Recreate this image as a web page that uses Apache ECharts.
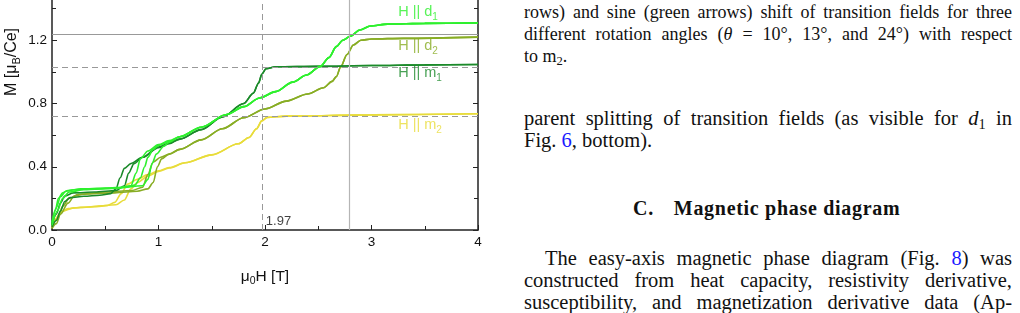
<!DOCTYPE html>
<html>
<head>
<meta charset="utf-8">
<script src="https://cdn.jsdelivr.net/npm/echarts@6.0.0/dist/echarts.min.js"></script>
<style>
  html, body { margin: 0; padding: 0; background: #fff; width: 1020px; height: 313px; overflow: hidden; position: relative; }
  #chart { position: absolute; left: 0; top: -30px; width: 510px; height: 343px; }
  .ln { position: absolute; left: 524px; width: 488px; font-family: "Liberation Serif", "DejaVu Serif", serif; color: #111; white-space: nowrap; line-height: 22px; }
  .cap { font-size: 18px; }
  .body { font-size: 20.5px; }
  .j { text-align: justify; text-align-last: justify; white-space: normal; }
  .blue { color: #1a1aff; }
  .head { position: absolute; font-family: "Liberation Serif", serif; font-weight: bold; font-size: 20px; letter-spacing: 0.7px; color: #111; line-height: 22px; white-space: nowrap; }
  sub { font-size: 70%; vertical-align: -0.25em; line-height: 0; }
</style>
</head>
<body>
<div id="chart"></div>

<div class="ln cap j" style="top:1px;">rows) and sine (green arrows) shift of transition fields for three</div>
<div class="ln cap j" style="top:23px;">different rotation angles (<i>θ</i> = 10°, 13°, and 24°) with respect</div>
<div class="ln cap" style="top:45px;">to m<sub>2</sub>.</div>

<div class="ln body j" style="top:107px;">parent splitting of transition fields (as visible for <i>d</i><sub>1</sub> in</div>
<div class="ln body" style="top:129px;">Fig. <span class="blue">6</span>, bottom).</div>

<div class="head" style="left:633px; top:197px;">C.<span style="display:inline-block;width:20px;"></span>Magnetic phase diagram</div>

<div class="ln body j" style="top:247px; left:545px; width:467px;">The easy-axis magnetic phase diagram (Fig. <span class="blue">8</span>) was</div>
<div class="ln body j" style="top:269px;">constructed from heat capacity, resistivity derivative,</div>
<div class="ln body j" style="top:291px;">susceptibility, and magnetization derivative data (Ap-</div>

<script>
// ---- data (field H in T, magnetization M in muB/Ce) ----
// H || d1 : low-field branches and common high-field part
const d1LowA = [[0,0.04],[0.03,0.12],[0.06,0.2],[0.1,0.235],[0.15,0.25],[0.27,0.26],[0.5,0.265],[0.7,0.272],[0.78,0.285],[0.83,0.33],[0.87,0.4],[0.9,0.46],[0.95,0.51],[1.0,0.535],[1.1,0.56]];
const d1LowB = [[0,0.05],[0.04,0.14],[0.08,0.21],[0.13,0.245],[0.2,0.255],[0.4,0.26],[0.6,0.265],[0.74,0.28],[0.79,0.36],[0.83,0.45],[0.9,0.5],[1.0,0.54],[1.1,0.565]];
const d1LowC = [[0,0.03],[0.05,0.12],[0.1,0.2],[0.16,0.24],[0.3,0.255],[0.6,0.265],[0.85,0.28],[0.9,0.32],[0.94,0.42],[0.98,0.48],[1.05,0.53],[1.1,0.555]];
const d1High = [[1.2,0.59],[1.4,0.65],[1.64,0.73],[1.8,0.78],[1.95,0.835],[2.1,0.875],[2.26,0.935],[2.39,0.98],[2.52,1.035],[2.6,1.09],[2.67,1.16],[2.73,1.2],[2.8,1.225],[2.89,1.265],[2.99,1.29],[3.15,1.302],[3.5,1.307],[4.0,1.31]];

// H || m1
const m1LowA = [[0,0.02],[0.04,0.06],[0.08,0.12],[0.12,0.18],[0.17,0.205],[0.3,0.213],[0.45,0.22],[0.55,0.23],[0.6,0.26],[0.64,0.33],[0.68,0.39],[0.74,0.42],[0.85,0.46],[1.0,0.52],[1.1,0.545]];
const m1LowB = [[0,0.03],[0.04,0.1],[0.08,0.17],[0.12,0.215],[0.2,0.235],[0.4,0.24],[0.6,0.25],[0.68,0.28],[0.72,0.36],[0.77,0.42],[0.85,0.46],[1.0,0.525],[1.1,0.55]];
const m1High = [[1.2,0.575],[1.4,0.635],[1.6,0.715],[1.8,0.8],[1.89,0.865],[1.94,0.93],[1.97,0.985],[2.01,1.02],[2.1,1.032],[2.5,1.035],[3.0,1.04],[3.5,1.044],[4.0,1.047]];

// H || d2
const d2LowA = [[0,0.01],[0.04,0.04],[0.08,0.1],[0.15,0.17],[0.21,0.215],[0.3,0.228],[0.59,0.235],[0.8,0.245],[0.9,0.26],[0.95,0.3],[0.99,0.4],[1.03,0.45],[1.1,0.48]];
const d2LowB = [[0,0.02],[0.05,0.07],[0.1,0.15],[0.16,0.2],[0.25,0.225],[0.5,0.24],[0.75,0.25],[0.85,0.27],[0.9,0.35],[0.95,0.43],[1.02,0.46],[1.1,0.48]];
const d2High = [[1.2,0.51],[1.4,0.57],[1.6,0.64],[1.8,0.71],[2.0,0.765],[2.2,0.815],[2.4,0.86],[2.55,0.9],[2.63,0.94],[2.67,0.97],[2.71,1.03],[2.77,1.11],[2.83,1.17],[2.9,1.2],[3.0,1.208],[3.3,1.212],[4.0,1.22]];

// H || m2
const m2LowA = [[0,0.01],[0.02,0.06],[0.08,0.11],[0.15,0.135],[0.27,0.143],[0.52,0.155],[0.59,0.175],[0.65,0.23],[0.71,0.29],[0.8,0.32],[0.9,0.35],[1.0,0.375],[1.1,0.395]];
const m2LowB = [[0,0.02],[0.04,0.07],[0.1,0.12],[0.2,0.14],[0.4,0.148],[0.6,0.16],[0.68,0.19],[0.74,0.26],[0.8,0.3],[0.9,0.34],[1.0,0.37],[1.1,0.392]];
const m2High = [[1.25,0.425],[1.5,0.475],[1.75,0.545],[1.85,0.585],[1.92,0.64],[1.97,0.69],[2.02,0.712],[2.2,0.72],[3.0,0.728],[4.0,0.735]];

// reference lines
const vDashed = [1.97];
const vSolid = [2.79];
const hDashed = [1.03, 0.717];
const hSolid = [1.235];

// labels
const curveLabels = ['d1', 'd2', 'm1', 'm2'];
const labelPos = [[3.25, 1.38], [3.25, 1.165], [3.25, 0.99], [3.25, 0.665]];
const fieldMark = [[1.97, 0]];
const fieldMarkText = '1.97';

const colors = { d1: '#2ef02e', d2: '#88ad24', m1: '#1b8a2a', m2: '#e8dc3a' };

const chart = echarts.init(document.getElementById('chart'), null, { renderer: 'canvas' });

function curve(name, color, data) {
  return {
    type: 'line', name: name, data: data, showSymbol: false, symbol: 'none',
    smooth: 0.3, smoothMonotone: 'x',
    lineStyle: { color: color, width: 1.6 }, z: 3, silent: true
  };
}

const series = [
  curve('m2a', colors.m2, m2LowA.concat(m2High)),
  curve('m2b', colors.m2, m2LowB.concat(m2High)),
  curve('d2a', colors.d2, d2LowA.concat(d2High)),
  curve('d2b', colors.d2, d2LowB.concat(d2High)),
  curve('m1a', colors.m1, m1LowA.concat(m1High)),
  curve('m1b', colors.m1, m1LowB.concat(m1High)),
  curve('d1a', colors.d1, d1LowA.concat(d1High)),
  curve('d1b', colors.d1, d1LowB.concat(d1High)),
  curve('d1c', colors.d1, d1LowC.concat(d1High)),
  {
    type: 'line', name: 'refs', data: [], z: 1, silent: true,
    markLine: {
      silent: true, symbol: ['none', 'none'], label: { show: false }, animation: false,
      data: [
        ...vDashed.map(v => ({ xAxis: v, lineStyle: { color: '#999', type: [6, 4], width: 1 } })),
        ...vSolid.map(v => ({ xAxis: v, lineStyle: { color: '#b5b5b5', type: 'solid', width: 1.2 } })),
        ...hDashed.map(v => ({ yAxis: v, lineStyle: { color: '#999', type: [6, 4], width: 1 } })),
        ...hSolid.map(v => ({ yAxis: v, lineStyle: { color: '#999', type: 'solid', width: 1 } }))
      ]
    }
  },
  {
    type: 'scatter', name: 'fieldMark', data: fieldMark, symbolSize: 0, z: 5, silent: true,
    label: { show: true, position: 'right', distance: 4, offset: [0, -9], formatter: fieldMarkText,
      fontFamily: 'Liberation Sans', fontSize: 13, color: '#111' }
  },
  ...curveLabels.map((c, i) => ({
    type: 'scatter', name: 'lab' + c, data: [labelPos[i]], symbolSize: 0, z: 5, silent: true,
    label: {
      show: true, position: 'right', distance: 0,
      formatter: '{a|H || ' + c[0] + '}{s|' + c[1] + '}',
      color: colors[c],
      rich: {
        a: { fontFamily: 'Liberation Sans', fontSize: 14.5, color: colors[c] },
        s: { fontFamily: 'Liberation Sans', fontSize: 10, color: colors[c], padding: [10, 0, 0, 0] }
      }
    }
  }))
];

const axisCol = '#222';
chart.setOption({
  animation: false,
  backgroundColor: 'transparent',
  grid: { left: 52, right: 32, top: 1.3, bottom: 83, containLabel: false },
  xAxis: {
    type: 'value', min: 0, max: 4, interval: 1,
    axisLine: { show: true, lineStyle: { color: axisCol, width: 1.5 } },
    axisTick: { show: true, inside: true, length: 5, lineStyle: { color: axisCol } },
    minorTick: { show: true, splitNumber: 2, length: 4, lineStyle: { color: axisCol } },
    splitLine: { show: false }, minorSplitLine: { show: false },
    axisLabel: { color: '#111', fontFamily: 'Liberation Sans', fontSize: 13.5, margin: 5 },
    name: '{a|μ}{s|0}{a|H [T]}', nameLocation: 'middle', nameGap: 36,
    nameTextStyle: { color: '#111', rich: {
      a: { fontFamily: 'Liberation Sans', fontSize: 15.5, color: '#111' },
      s: { fontFamily: 'Liberation Sans', fontSize: 10.5, color: '#111', padding: [10, 0, 0, 0] } } }
  },
  yAxis: [{
    type: 'value', min: 0, max: 1.6, interval: 0.4, position: 'left',
    axisLine: { show: true, lineStyle: { color: axisCol, width: 1.5 } },
    axisTick: { show: true, inside: true, length: 5, lineStyle: { color: axisCol } },
    minorTick: { show: true, splitNumber: 2, length: 4, lineStyle: { color: axisCol } },
    splitLine: { show: false },
    axisLabel: { color: '#111', fontFamily: 'Liberation Sans', fontSize: 13.5, margin: 5,
      formatter: v => v.toFixed(1) }
  }, {
    type: 'value', min: 0, max: 1.6, interval: 0.4, position: 'right',
    axisLine: { show: true, lineStyle: { color: axisCol, width: 1.5 } },
    axisTick: { show: true, inside: true, length: 5, lineStyle: { color: axisCol } },
    minorTick: { show: true, splitNumber: 2, length: 4, lineStyle: { color: axisCol } },
    splitLine: { show: false },
    axisLabel: { show: false }
  }],
  graphic: [{
    type: 'text', x: 12, y: 92, rotation: Math.PI / 2,
    style: {
      text: '{a|M [μ}{s|B}{a|/Ce]}', align: 'center', verticalAlign: 'middle',
      rich: {
        a: { fontFamily: 'Liberation Sans', fontSize: 16, fill: '#111' },
        s: { fontFamily: 'Liberation Sans', fontSize: 11, fill: '#111', padding: [10, 0, 0, 0] }
      }
    }
  }],
  series: series
});
</script>
</body>
</html>
